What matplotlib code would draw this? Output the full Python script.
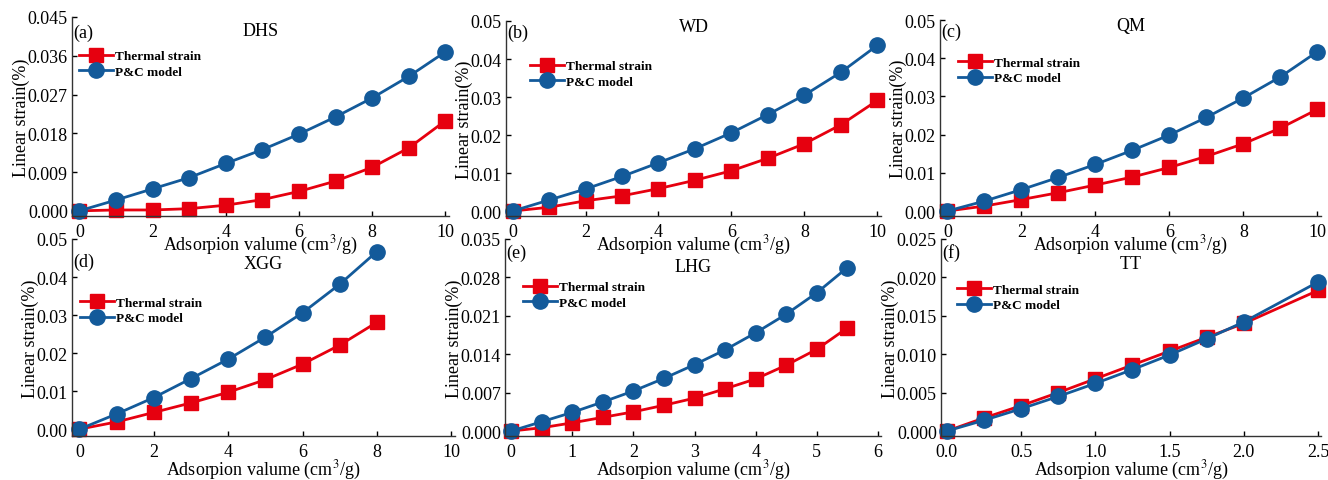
import matplotlib
matplotlib.use("Agg")
import matplotlib.pyplot as plt
from matplotlib.ticker import FormatStrFormatter

plt.rcParams['font.family'] = ['Liberation Serif', 'DejaVu Serif']
plt.rcParams['mathtext.fontset'] = 'stix'

# ---- data ----
names = ["DHS", "WD", "QM", "XGG", "LHG", "TT"]
letters = ["(a)", "(b)", "(c)", "(d)", "(e)", "(f)"]

x_dhs = [0, 1, 2, 3, 4, 5, 6, 7, 8, 9, 10]
th_dhs = [0.0, 0.0002, 0.0002, 0.0005, 0.0013, 0.0026, 0.0045, 0.0069, 0.0101, 0.0146, 0.0209]
pc_dhs = [0.0, 0.0025, 0.0051, 0.0077, 0.0110, 0.0142, 0.0178, 0.0218, 0.0262, 0.0312, 0.0369]

x_wd = [0, 1, 2, 3, 4, 5, 6, 7, 8, 9, 10]
th_wd = [0.0, 0.0010, 0.0027, 0.0040, 0.0059, 0.0081, 0.0106, 0.0139, 0.0177, 0.0227, 0.0291]
pc_wd = [0.0, 0.0029, 0.0058, 0.0091, 0.0127, 0.0164, 0.0206, 0.0254, 0.0305, 0.0365, 0.0436]

x_qm = [0, 1, 2, 3, 4, 5, 6, 7, 8, 9, 10]
th_qm = [0.0, 0.0013, 0.0030, 0.0048, 0.0068, 0.0089, 0.0114, 0.0143, 0.0176, 0.0217, 0.0266]
pc_qm = [0.0, 0.0026, 0.0056, 0.0088, 0.0122, 0.0159, 0.0199, 0.0245, 0.0296, 0.0351, 0.0417]

x_xgg = [0, 1, 2, 3, 4, 5, 6, 7, 8]
th_xgg = [0.0, 0.0019, 0.0044, 0.0069, 0.0097, 0.0130, 0.0171, 0.0221, 0.0281]
pc_xgg = [0.0, 0.0040, 0.0083, 0.0133, 0.0184, 0.0242, 0.0306, 0.0381, 0.0467]

x_lhg = [0, 0.5, 1, 1.5, 2, 2.5, 3, 3.5, 4, 4.5, 5, 5.5]
th_lhg = [0.0, 0.0006, 0.0015, 0.0025, 0.0035, 0.0047, 0.0060, 0.0077, 0.0095, 0.0120, 0.0149, 0.0188]
pc_lhg = [0.0, 0.0017, 0.0034, 0.0053, 0.0073, 0.0096, 0.0121, 0.0148, 0.0179, 0.0213, 0.0252, 0.0298]

x_tt = [0, 0.25, 0.5, 0.75, 1.0, 1.25, 1.5, 1.75, 2.0, 2.5]
th_tt = [0.0, 0.0017, 0.0033, 0.0050, 0.0068, 0.0086, 0.0104, 0.0122, 0.0140, 0.0183]
pc_tt = [0.0, 0.0014, 0.0029, 0.0045, 0.0062, 0.0080, 0.0099, 0.0120, 0.0142, 0.0194]

xs = [x_dhs, x_wd, x_qm, x_xgg, x_lhg, x_tt]
ths = [th_dhs, th_wd, th_qm, th_xgg, th_lhg, th_tt]
pcs = [pc_dhs, pc_wd, pc_qm, pc_xgg, pc_lhg, pc_tt]

yticks = [[0, 0.009, 0.018, 0.027, 0.036, 0.045],
          [0, 0.01, 0.02, 0.03, 0.04, 0.05],
          [0, 0.01, 0.02, 0.03, 0.04, 0.05],
          [0, 0.01, 0.02, 0.03, 0.04, 0.05],
          [0, 0.007, 0.014, 0.021, 0.028, 0.035],
          [0, 0.005, 0.010, 0.015, 0.020, 0.025]]
yfmt = ['%.3f', '%.2f', '%.2f', '%.2f', '%.3f', '%.3f']
xticks = [[0, 2, 4, 6, 8, 10]] * 4 + [[0, 1, 2, 3, 4, 5, 6], [0, 0.5, 1.0, 1.5, 2.0, 2.5]]
xfmt = ['%g'] * 5 + ['%.1f']

# ---- layout (pixels) ----
W, H = 1328, 481
# (left, right, top, bottom) pixels of axes
boxes = [(72, 449, 18, 217), (506, 881, 22, 217), (940, 1321, 21, 217),
         (72, 455, 240, 437), (505, 881, 240, 437), (941, 1321, 240, 437)]
xlims = [(-0.2, 10.1), (-0.18, 10.1), (-0.2, 10.1), (-0.2, 10.1), (-0.1, 6.05), (-0.04, 2.52)]
ylims = [(-0.0012, 0.045), (-0.0013, 0.05), (-0.0013, 0.05), (-0.0018, 0.05), (-0.0009, 0.035), (-0.00065, 0.025)]
title_y = [31, 27, 27, 265, 268, 265]
letter_y = [33, 33, 32, 262, 253, 253]
legend_xy = [(79, 65), (530, 75), (958, 71.5), (80, 311.5), (523, 296), (957, 298.5)]
xlabel_pad = [-5, -5, -5, -1.5, -1.5, -1.5]

red = '#E6000F'
blue = '#135A9A'

fig = plt.figure(figsize=(W / 100, H / 100), dpi=100)
for i in range(6):
    l, r, t, b = boxes[i]
    ax = fig.add_axes([l / W, 1 - b / H, (r - l) / W, (b - t) / H])
    ax.patch.set_visible(False)
    ax.set_zorder(10 - i)
    ax.plot(xs[i], ths[i], color=red, lw=2.0, marker='s', ms=9.5, label='Thermal strain')
    ax.plot(xs[i], pcs[i], color=blue, lw=2.0, marker='o', ms=11, label='P&C model')
    ax.set_xlim(*xlims[i])
    ax.set_ylim(*ylims[i])
    ax.set_yticks(yticks[i])
    ax.set_xticks(xticks[i])
    ax.yaxis.set_major_formatter(FormatStrFormatter(yfmt[i]))
    ax.xaxis.set_major_formatter(FormatStrFormatter(xfmt[i]))
    for s in ['top', 'right']:
        ax.spines[s].set_visible(False)
    for s in ['left', 'bottom']:
        ax.spines[s].set_linewidth(1.0)
        ax.spines[s].set_color('#333333')
    ax.tick_params(labelsize=13, length=3.5, width=1.0, direction='in')
    ax.tick_params(axis='x', pad=5)
    ax.tick_params(axis='y', pad=3)
    ax.set_xlabel('Adsorpion valume (cm$^3$/g)', fontsize=13, labelpad=xlabel_pad[i])
    ax.set_ylabel('Linear strain(%)', fontsize=13, labelpad=-2)
    cx = (l + r) / 2
    fig.text(cx / W, 1 - title_y[i] / H, names[i], ha='center', va='center', fontsize=13, zorder=20)
    fig.text((l + 1) / W, 1 - letter_y[i] / H, letters[i], ha='left', va='center', fontsize=13, zorder=20)
    lx, ly = legend_xy[i]
    ax.legend(loc='center left', bbox_to_anchor=(lx / W, 1 - ly / H), bbox_transform=fig.transFigure,
              frameon=False, prop={'size': 9.5, 'weight': 'semibold'}, handlelength=2.6, handletextpad=0.1,
              labelspacing=0.25, borderaxespad=0, borderpad=0)
    for ln in ax.lines:
        ln.set_clip_on(False)

fig.savefig('out.png', dpi=100)
